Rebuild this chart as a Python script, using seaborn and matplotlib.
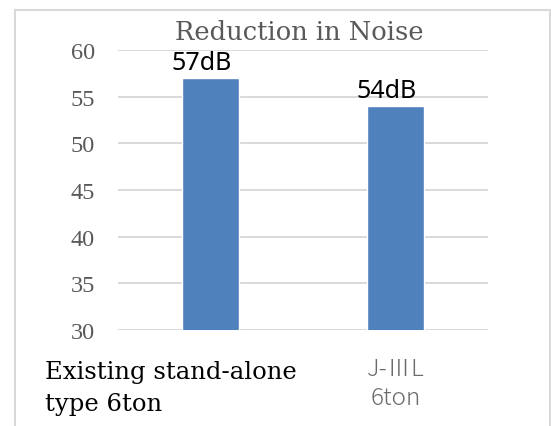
import matplotlib
matplotlib.use('Agg')
import matplotlib.pyplot as plt
import matplotlib.transforms as mtransforms
from matplotlib.patches import Rectangle
import seaborn as sns
import pandas as pd

# chart data
categories = ['Existing stand-alone\ntype 6ton', 'J-ⅢL\n6ton']
noise_db = [57, 54]
value_labels = ['57dB', '54dB']
y_ticks = [30, 35, 40, 45, 50, 55, 60]

sns.set_theme(style='white')
plt.rcParams['font.family'] = ['DejaVu Serif']

df = pd.DataFrame({'model': categories, 'noise': noise_db})

fig = plt.figure(figsize=(5.51, 4.27), dpi=100)
ax = fig.add_axes([118 / 551, 96 / 427, 370 / 551, 280 / 427])

sns.barplot(data=df, x='model', y='noise', color='#4F81BD', saturation=1,
            width=0.31, ax=ax, zorder=3)

ax.set_xlim(-0.5, 1.5)
ax.set_ylim(30, 60)
ax.set_yticks(y_ticks)
ax.yaxis.grid(True, color='#D9D9D9', linewidth=1.4, zorder=0)
ax.set_axisbelow(True)
for s in ax.spines.values():
    s.set_visible(False)
ax.tick_params(axis='y', length=0, pad=16.5, labelsize=17.5, labelcolor='#595959')
for lab in ax.get_yticklabels():
    lab.set_fontfamily('Liberation Serif')
ax.set_xticks(range(len(categories)))
ax.set_xticklabels([])
ax.tick_params(axis='x', length=0)
ax.set_xlabel('')
ax.set_ylabel('')

# data labels
for i, (v, txt) in enumerate(zip(noise_db, value_labels)):
    ax.annotate(txt, (i, v), xytext=(-9, 9), textcoords='offset pixels',
                ha='center', va='baseline', fontsize=18, color='black',
                family=['Noto Sans', 'DejaVu Sans'], zorder=4)

# title
fig.text(299 / 551, 1 - 33 / 427, 'Reduction in Noise', ha='center', va='center',
         fontsize=18.5, color='#595959', family='DejaVu Serif')

# category labels
trans = mtransforms.blended_transform_factory(ax.transData, fig.transFigure)
fig.text(45 / 551, 1 - 361 / 427, categories[0], ha='left', va='top',
         fontsize=17.5, color='black', family='DejaVu Serif', linespacing=1.52)
ax.text(1, 1 - 357 / 427, categories[1], transform=trans, ha='center', va='top',
        fontsize=17.5, color='#6b6b6b', fontweight='light',
        family=['Noto Sans CJK JP', 'DejaVu Sans'], linespacing=1.22)

# outer chart frame
fig.patches.append(Rectangle((14.5 / 551, -0.1), (550 - 14.5) / 551, 1.1 - 10.5 / 427,
                             transform=fig.transFigure, fill=False,
                             edgecolor='#D9D9D9', linewidth=1.5))

fig.savefig('out.png', dpi=100)
